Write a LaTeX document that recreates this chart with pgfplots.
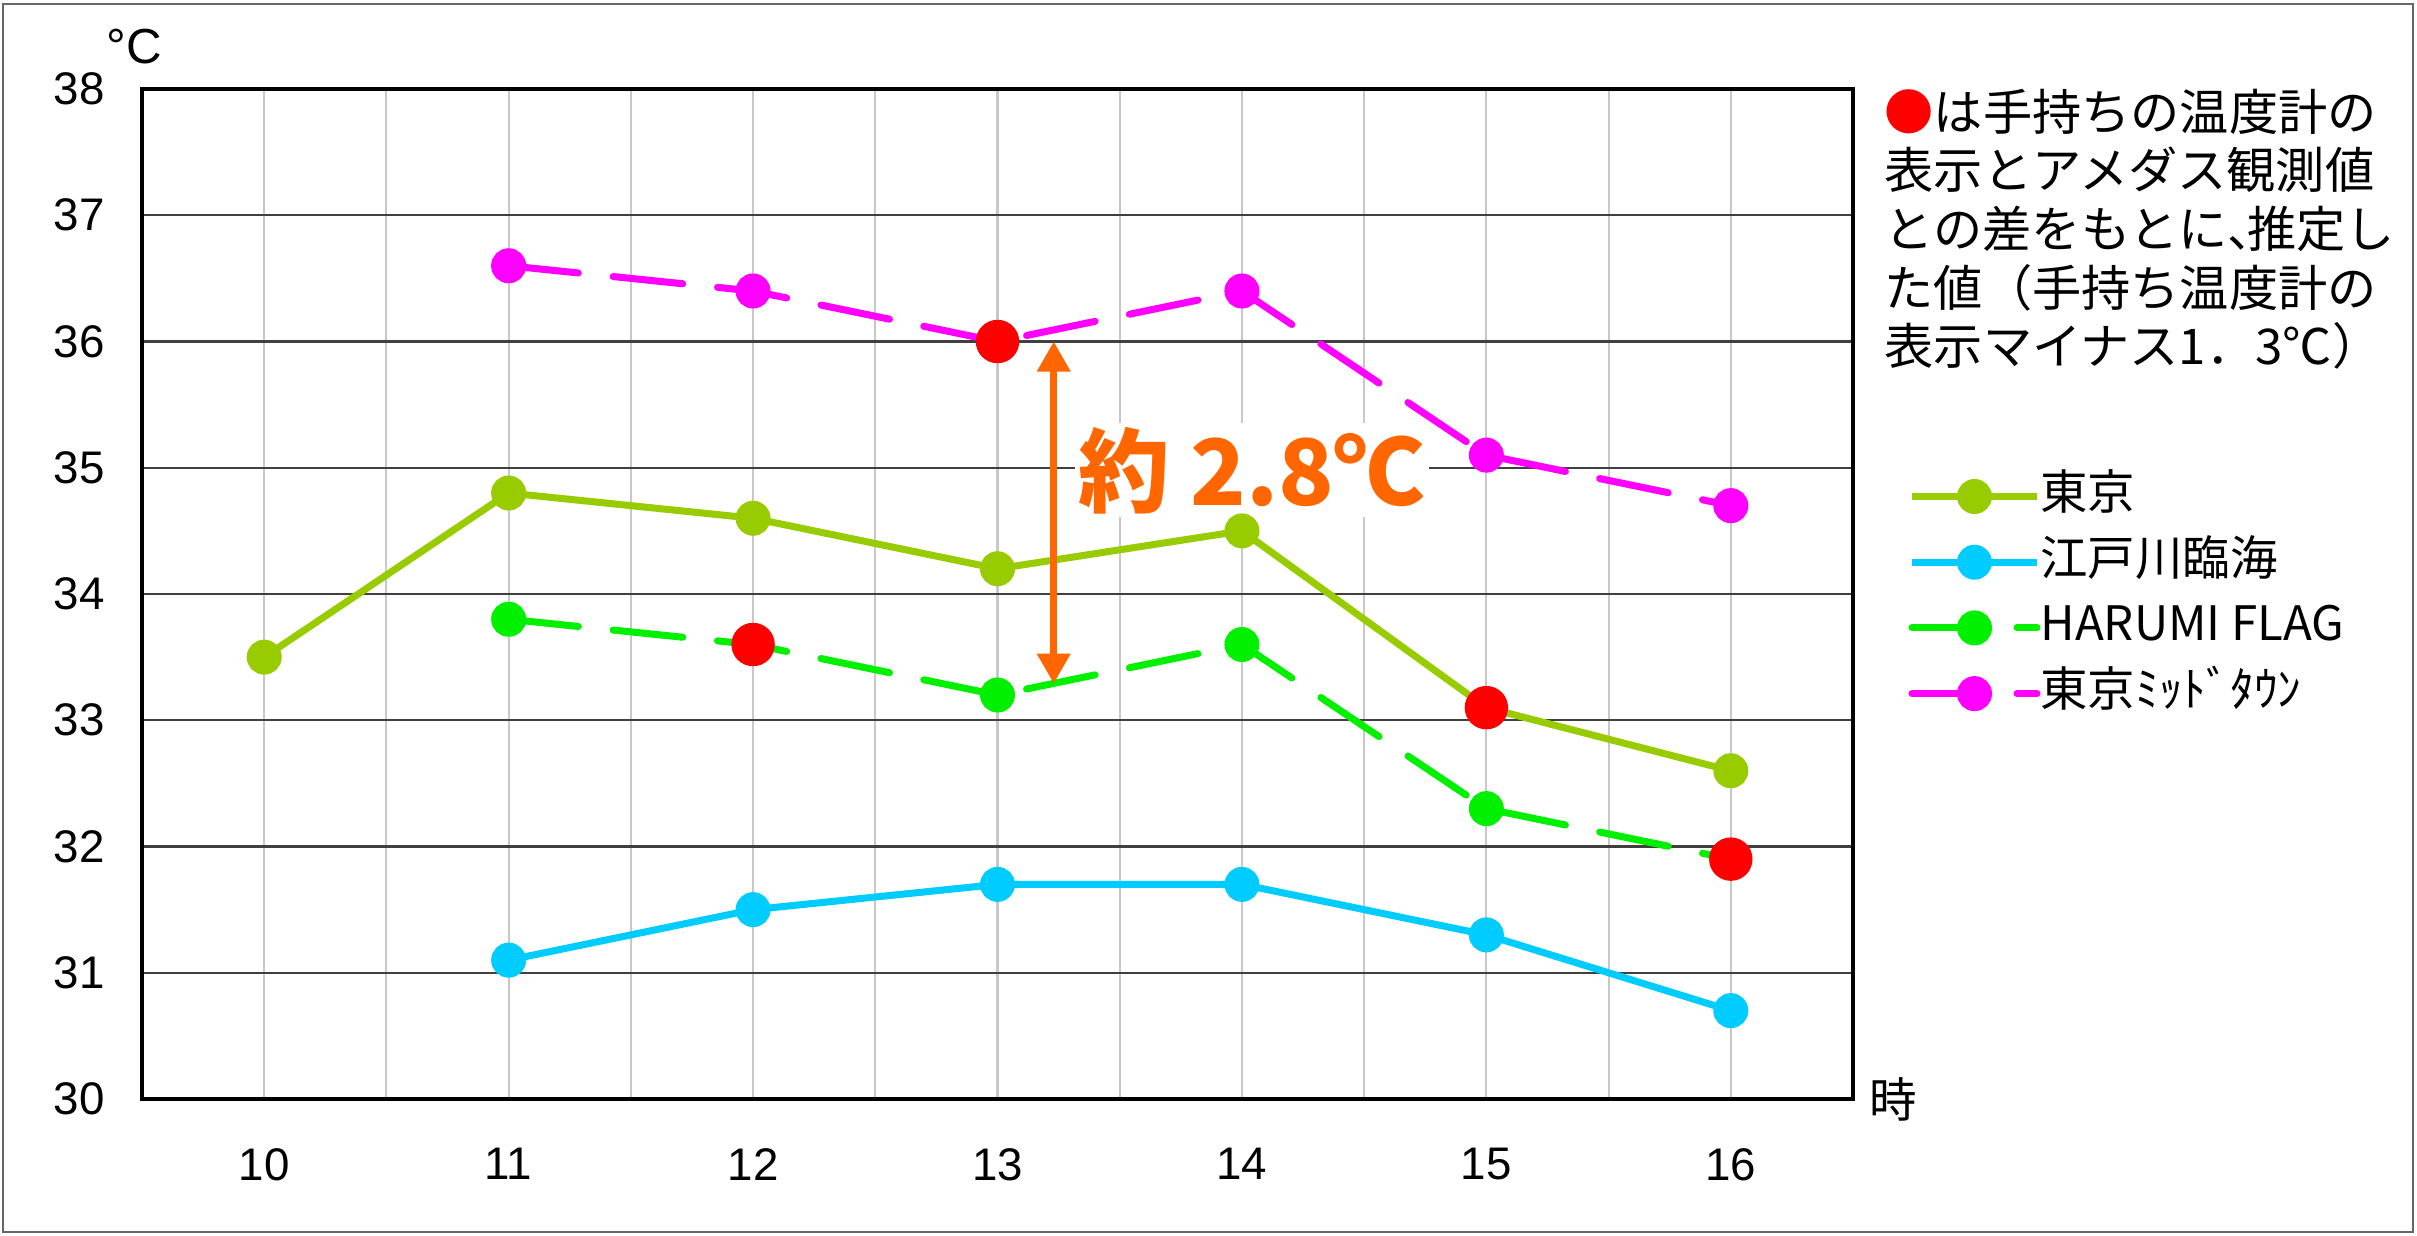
\documentclass[border=0pt]{standalone}
\usepackage{fontspec}
\setmainfont{Liberation Sans}
\newfontfamily\jp{Noto Sans CJK JP}
\usepackage{pgfplots}
\pgfplotsset{compat=1.18}
\usetikzlibrary{arrows.meta}
\definecolor{ctokyo}{HTML}{99CC00}
\definecolor{cedo}{HTML}{00CCFF}
\definecolor{charumi}{HTML}{00F000}
\definecolor{cmid}{HTML}{FF00FF}
\definecolor{corange}{HTML}{FF6600}
\definecolor{cgridv}{HTML}{C8C8C8}
\definecolor{cgridh}{HTML}{404040}
\begin{document}
\begin{tikzpicture}
\useasboundingbox (-1.42cm,-1.36cm) rectangle (22.75cm,10.99cm);
\draw[line width=0.8pt, black!60] (-1.39cm,-1.33cm) rectangle (22.71cm,10.95cm);
\begin{axis}[
  at={(0,0)}, anchor=south west,
  scale only axis, width=17.11cm, height=10.10cm,
  xmin=9.5, xmax=16.5, ymin=30, ymax=38,
  xtick={10,...,16}, minor xtick={10.5,11.5,...,15.5}, ytick={30,...,38},
  xmajorgrids, xminorgrids, ymajorgrids,
  x grid style={cgridv, line width=0.6pt},
  y grid style={cgridh, line width=0.6pt},
  major tick length=0pt, minor tick length=0pt,
  axis line style={black, line width=1pt},
  tick label style={font=\fontsize{13}{15}\selectfont},
  /pgf/number format/assume math mode=true,
  yticklabel style={xshift=-0.25cm},
  xticklabel style={yshift=-0.37cm},
  clip=false,
  legend style={at={(axis description cs:1.032,0.620)}, anchor=north west,
    draw=none, fill=none, inner sep=0pt, row sep=0.197cm,
    nodes={inner sep=0pt, text height=0.36cm, text depth=0.1cm},
    font=\jp\fontsize{13.5}{16}\selectfont},
  legend cell align=left,
  legend image code/.code={\draw[mark repeat=2,mark phase=2] plot coordinates {(0cm,0cm) (0.625cm,0cm) (1.25cm,0cm)};},
]
\addplot[ctokyo, line width=2pt, line join=round, mark=*, mark size=0.14cm, mark options={solid, fill=ctokyo}]
  coordinates {(10,33.5)(11,34.8)(12,34.6)(13,34.2)(14,34.5)(15,33.1)(16,32.6)};
\addlegendentry{東京}
\addplot[cedo, line width=2pt, line join=round, mark=*, mark size=0.14cm, mark options={solid, fill=cedo}]
  coordinates {(11,31.1)(12,31.5)(13,31.7)(14,31.7)(15,31.3)(16,30.7)};
\addlegendentry{江戸川臨海}
\addplot[charumi, line width=2pt, line cap=round, dash pattern=on 0.7cm off 0.35cm, mark=*, mark size=0.14cm, mark options={solid, fill=charumi}]
  coordinates {(11,33.8)(12,33.6)(13,33.2)(14,33.6)(15,32.3)(16,31.9)};
\addlegendentry{HARUMI FLAG}
\addplot[cmid, line width=2pt, line cap=round, dash pattern=on 0.7cm off 0.35cm, mark=*, mark size=0.14cm, mark options={solid, fill=cmid}]
  coordinates {(11,36.6)(12,36.4)(13,36.0)(14,36.4)(15,35.1)(16,34.7)};
\addlegendentry{東京ﾐｯﾄﾞﾀｳﾝ}
\addplot[only marks, mark=*, mark size=0.21cm, red, mark options={fill=red}, forget plot]
  coordinates {(12,33.6)(13,36.0)(15,33.1)(16,31.9)};
\draw[corange, line width=2pt, {Triangle[width=0.32cm,length=0.3cm]}-{Triangle[width=0.32cm,length=0.3cm]}]
  (axis cs:13.23,36.0) -- (axis cs:13.23,33.29);
\node[fill=white, text=corange, inner sep=1pt, font=\jp\bfseries\fontsize{26}{30}\selectfont] at (axis cs:14.04,34.98) {約 2.8℃};
\end{axis}
\node[font=\fontsize{14}{16}\selectfont] at (-0.08cm,10.52cm) {°C};
\node[font=\jp\fontsize{13.5}{16}\selectfont] at (17.51cm,0cm) {時};
\node[anchor=north west, align=left, inner sep=0pt, font=\jp\fontsize{14}{16.7}\selectfont] at (17.42cm,10.11cm)
  {{\color{red}●}は手持ちの温度計の\\表示とアメダス観測値\\との差をもとに\makebox[0.4em][l]{、}推定し\\た値（手持ち温度計の\\表示マイナス1．3℃）};
\end{tikzpicture}
\end{document}
